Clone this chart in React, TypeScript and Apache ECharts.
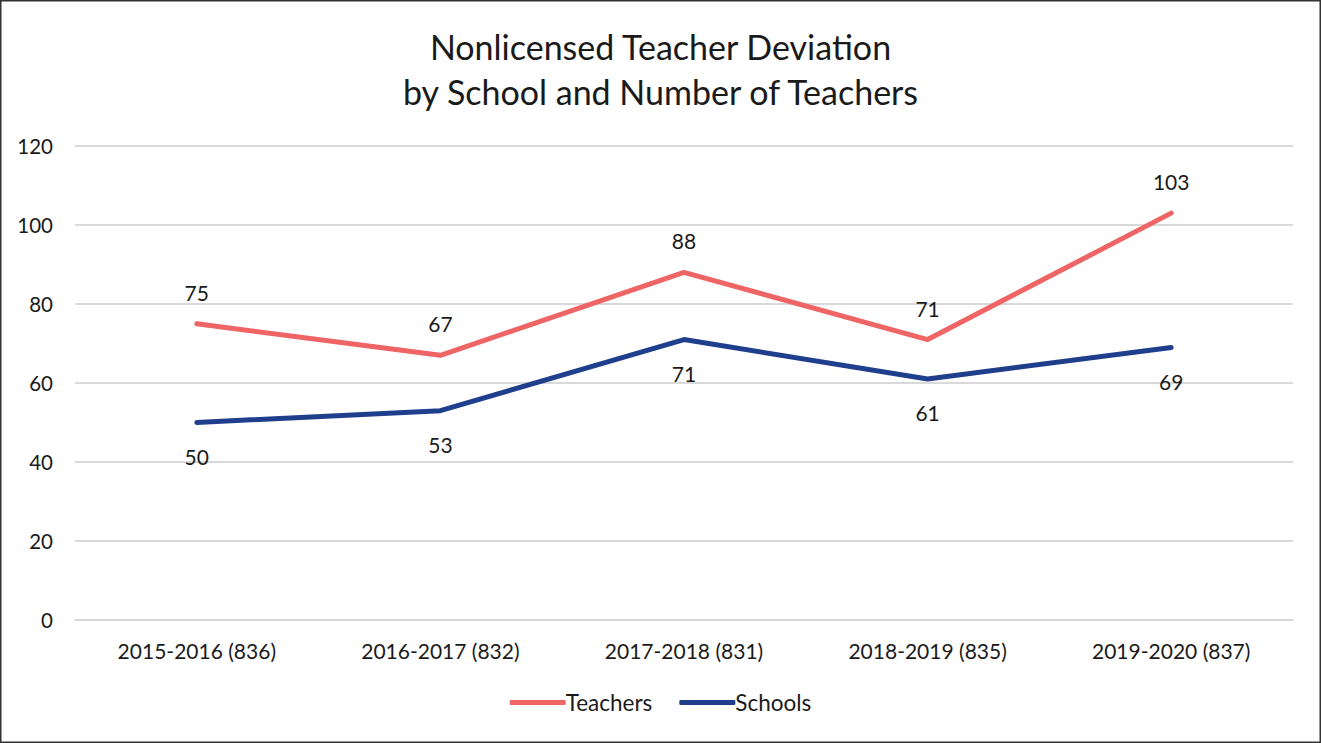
import React, { useEffect, useRef } from "react";
import * as echarts from "echarts";

const categories = [
  "2015-2016 (836)",
  "2016-2017 (832)",
  "2017-2018 (831)",
  "2018-2019 (835)",
  "2019-2020 (837)",
];
const teachers = [75, 67, 88, 71, 103];
const schools = [50, 53, 71, 61, 69];
const titleLines = ["Nonlicensed Teacher Deviation", "by School and Number of Teachers"];

const FONT = "Lato, 'Open Sans', sans-serif";
const TEXT = "#1a1a1a";

export default function App() {
  const ref = useRef<HTMLDivElement>(null);
  useEffect(() => {
    document.body.style.margin = "0";
    const chart = echarts.init(ref.current!, undefined, { renderer: "svg" });
    chart.setOption({
      animation: false,
      backgroundColor: "#ffffff",
      textStyle: { fontFamily: FONT },
      title: {
        text: titleLines.join("\n"),
        left: "center",
        top: 19,
        textStyle: {
          fontFamily: FONT,
          fontSize: 34,
          fontWeight: "normal",
          color: TEXT,
          lineHeight: 45,
        },
      },
      legend: {
        bottom: 24,
        left: "center",
        icon: "roundRect",
        itemWidth: 56,
        itemHeight: 5,
        itemGap: 27,
        textStyle: { fontFamily: FONT, fontSize: 22.5, color: TEXT, padding: [0, 0, 0, -5] },
        data: ["Teachers", "Schools"],
      },
      grid: { left: 75, right: 28, top: 146, bottom: 123 },
      xAxis: {
        type: "category",
        data: categories,
        boundaryGap: true,
        axisLine: { show: true, lineStyle: { color: "#d9d9d9", width: 2 } },
        axisTick: { show: false },
        axisLabel: { fontFamily: FONT, fontSize: 21, color: TEXT, margin: 20 },
      },
      yAxis: {
        type: "value",
        min: 0,
        max: 120,
        interval: 20,
        axisLine: { show: false },
        axisTick: { show: false },
        splitLine: { lineStyle: { color: "#d9d9d9", width: 2 } },
        axisLabel: { fontFamily: FONT, fontSize: 20.5, color: TEXT, margin: 22 },
      },
      series: [
        {
          name: "Teachers",
          type: "line",
          data: teachers,
          symbol: "circle",
          symbolSize: 0.1,
          showSymbol: true,
          lineStyle: { color: "#ef6464", width: 5, cap: "round", join: "round" },
          itemStyle: { color: "#ef6464" },
          label: {
            show: true,
            position: "top",
            distance: 21,
            fontFamily: FONT,
            fontSize: 21,
            color: TEXT,
          },
        },
        {
          name: "Schools",
          type: "line",
          data: schools,
          symbol: "circle",
          symbolSize: 0.1,
          showSymbol: true,
          lineStyle: { color: "#1f3f8c", width: 5, cap: "round", join: "round" },
          itemStyle: { color: "#1f3f8c" },
          label: {
            show: true,
            position: "bottom",
            distance: 23,
            fontFamily: FONT,
            fontSize: 21,
            color: TEXT,
          },
        },
      ],
      graphic: [
        {
          type: "rect",
          shape: { x: 0.75, y: 0.75, width: 1319.5, height: 741.5 },
          style: { fill: "none", stroke: "#333333", lineWidth: 1.5 },
          silent: true,
        },
      ],
    });
    return () => chart.dispose();
  }, []);
  return <div ref={ref} style={{ width: 1321, height: 743 }} />;
}
